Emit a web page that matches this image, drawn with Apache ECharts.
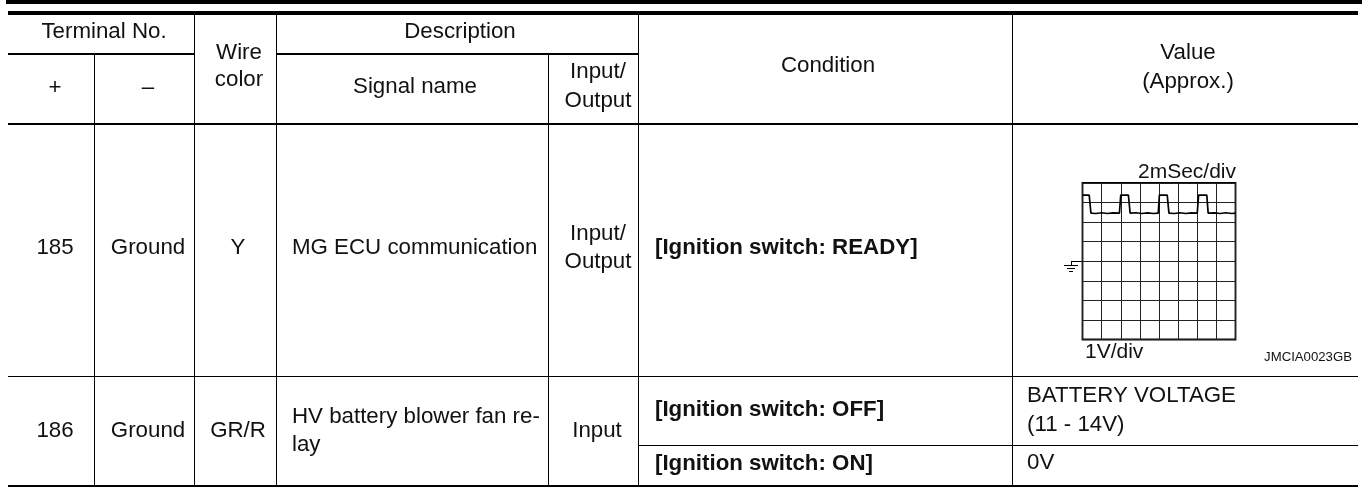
<!DOCTYPE html>
<html><head><meta charset="utf-8">
<script src="https://cdn.jsdelivr.net/npm/echarts@6/dist/echarts.min.js"></script>
<style>html,body{margin:0;padding:0;background:#fff}#c{width:1362px;height:487px}</style>
</head><body><div id="c"></div>
<script>
// Oscilloscope trace: time in divisions, level in divisions above ground
var traceTime  = [0,0.35,0.44,0.7,1.0,1.3,1.6,1.93,2.0,2.4,2.49,2.8,3.1,3.4,3.7,3.96,4.02,4.43,4.52,4.8,5.1,5.4,5.7,6.0,6.07,6.5,6.57,6.9,7.2,7.5,7.8,8];
var traceLevel = [3.38,3.38,2.46,2.44,2.48,2.44,2.47,2.46,3.38,3.38,2.46,2.48,2.44,2.47,2.44,2.46,3.38,3.38,2.46,2.44,2.48,2.44,2.47,2.46,3.38,3.38,2.46,2.47,2.44,2.48,2.44,2.46];
var scopeTimeLabel = '2mSec/div';
var scopeVoltLabel = '1V/div';
var figureCode = 'JMCIA0023GB';
var headerTerminal = 'Terminal No.', headerPlus = '+', headerMinus = '\u2013';
var headerWire = ['Wire','color'], headerDescription = 'Description', headerSignal = 'Signal name';
var headerInOut = ['Input/','Output'], headerCondition = 'Condition', headerValue = ['Value','(Approx.)'];
var row185 = ['185','Ground','Y','MG ECU communication'], row185InOut = ['Input/','Output'], row185Condition = '[Ignition switch: READY]';
var row186 = ['186','Ground','GR/R'], row186Signal = ['HV battery blower fan re-','lay'], row186InOut = 'Input';
var row186Conditions = ['[Ignition switch: OFF]','[Ignition switch: ON]'];
var row186Values = [['BATTERY VOLTAGE','(11 - 14V)'],'0V'];

var FS = 22.3, FF = '"Liberation Sans",Arial,sans-serif', G = [];
function r(x,y,w,h){G.push({type:'rect',silent:true,shape:{x:x,y:y,width:w,height:h},style:{fill:'#000'}});}
function t(s,x,y,al,o){o=o||{};G.push({type:'text',silent:true,x:x,y:y,style:{text:s,x:0,y:0,fill:o.c||'#111',align:al||'center',verticalAlign:'middle',font:(o.b?'bold ':'')+(o.s||FS)+'px '+FF}});}
r(6,0,1356,4); r(8,11,1350,4); r(8,485,1350,2);
r(8,53,186,2); r(276,53,362,2); r(8,123,1350,2); r(8,376,1350,1); r(638,445,720,1);
[[94,54],[194,15],[276,15],[548,54],[638,15],[1012,15]].forEach(function(v){r(v[0],v[1],1,486-v[1]);});
t(headerTerminal,104,32); t(headerPlus,55,88); t(headerMinus,148,88);
t(headerWire[0],239,53); t(headerWire[1],239,80);
t(headerDescription,460,32); t(headerSignal,415,87);
t(headerInOut[0],598,72); t(headerInOut[1],598,101);
t(headerCondition,828,66); t(headerValue[0],1188,53); t(headerValue[1],1188,82);
var col=[55,148,238];
t(row185[0],col[0],248); t(row185[1],col[1],248); t(row185[2],col[2],248); t(row185[3],292,248,'left');
t(row185InOut[0],598,234); t(row185InOut[1],598,262);
t(row185Condition,655,248,'left',{b:1});
t(row186[0],col[0],431); t(row186[1],col[1],431); t(row186[2],col[2],431);
t(row186Signal[0],292,417,'left'); t(row186Signal[1],292,445,'left'); t(row186InOut,597,431);
t(row186Conditions[0],655,410,'left',{b:1}); t(row186Conditions[1],655,464,'left',{b:1});
t(row186Values[0][0],1027,396,'left'); t(row186Values[0][1],1027,425,'left'); t(row186Values[1],1027,463,'left');
// scope captions and ground symbol
t(scopeTimeLabel,1236,172,'right',{s:21});
t(scopeVoltLabel,1085,352,'left',{s:21});
t(figureCode,1352,357.5,'right',{s:13.2});
r(1071,261,11,1); r(1071,261,1,4); r(1064,265,14,1); r(1067,268,8,1); r(1069,271,4,1);

var option = {
  animation:false, backgroundColor:'#fff',
  grid:{left:1082.5,top:183,width:153,height:156.5,show:true,borderColor:'#000',borderWidth:1.8,backgroundColor:'transparent'},
  xAxis:{type:'value',min:0,max:8,interval:1,axisLine:{show:false},axisTick:{show:false},axisLabel:{show:false},splitLine:{show:true,lineStyle:{color:'#222',width:1}}},
  yAxis:{type:'value',min:-4,max:4,interval:1,axisLine:{show:false},axisTick:{show:false},axisLabel:{show:false},splitLine:{show:true,lineStyle:{color:'#222',width:1}}},
  series:[{type:'line',showSymbol:false,smooth:false,silent:true,lineStyle:{color:'#000',width:1.7},
    data:traceTime.map(function(x,i){return [x,traceLevel[i]];})}],
  graphic:G
};
echarts.init(document.getElementById('c'),null,{renderer:'canvas'}).setOption(option);
</script></body></html>
